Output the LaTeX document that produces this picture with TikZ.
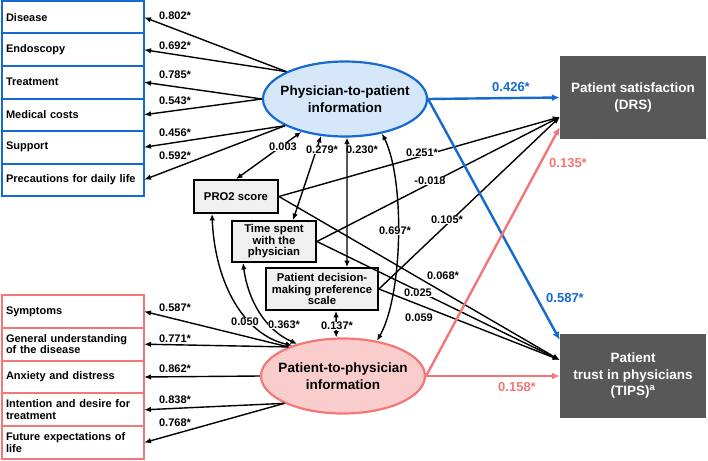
\documentclass[tikz,border=0pt]{standalone}
\usepackage{fontspec}
\setmainfont{Liberation Sans}
\usepackage{xcolor}
\usetikzlibrary{arrows.meta,shapes.geometric,positioning,calc}

\definecolor{pblue}{RGB}{20,106,210}
\definecolor{pred}{RGB}{244,118,118}
\definecolor{lblue}{RGB}{214,231,250}
\definecolor{lred}{RGB}{250,205,205}
\definecolor{dgray}{RGB}{88,88,88}
\definecolor{lgray}{RGB}{240,240,240}

\tikzset{
	ind/.style={rectangle, draw, line width=2pt, outer sep=0pt, anchor=north west, minimum width=142pt, minimum height=32.5pt, text width=134pt, inner xsep=4pt, inner ysep=1pt, align=left, font=\fontsize{11}{11.6}\selectfont\bfseries},
	bind/.style={ind, draw=pblue},
	rind/.style={ind, draw=pred, minimum height=32.8pt},
	lat/.style={ellipse, line width=2.2pt, minimum width=164pt, minimum height=75pt, inner xsep=-12pt, inner ysep=0pt, align=center, font=\fontsize{13.5}{17}\selectfont\bfseries},
	obs/.style={rectangle, draw, line width=1.8pt, fill=lgray, inner sep=2pt, align=center, font=\fontsize{11.3}{11.5}\selectfont\bfseries},
	dep/.style={rectangle, fill=dgray, text=white, minimum width=146pt, minimum height=83pt, align=center, font=\fontsize{13.5}{16.5}\selectfont\bfseries},
	arr/.style={line width=1.4pt, -{Latex[length=7pt,width=5.5pt]}},
	darr/.style={line width=1.4pt, {Latex[length=6.5pt,width=5.5pt]}-{Latex[length=6.5pt,width=5.5pt]}},
	barr/.style={pblue, line width=2.4pt, -{Latex[length=8pt,width=7pt]}},
	rarr/.style={pred, line width=2.4pt, -{Latex[length=8pt,width=7pt]}},
	num/.style={inner sep=0.5pt, font=\fontsize{11}{12}\selectfont\bfseries},
	numw/.style={num, fill=white},
	cnum/.style={inner sep=0.5pt, font=\fontsize{13}{14}\selectfont\bfseries}
}

\begin{document}
\begin{tikzpicture}[x=1pt,y=-1pt]
	\useasboundingbox (0,0) rectangle (708,460);
	\node[bind] (dis) at (2,1) {Disease};
	\node[bind] (endo) at (2,33.5) {Endoscopy};
	\node[bind] (treat) at (2,66) {Treatment};
	\node[bind] (cost) at (2,98.5) {Medical costs};
	\node[bind] (supp) at (2,131) {Support};
	\node[bind] (prec) at (2,163.5) {Precautions for daily life};
	\node[rind] (sym) at (2,295) {Symptoms};
	\node[rind] (gen) at (2,327.8) {General understanding\\of the disease};
	\node[rind] (anx) at (2,360.6) {Anxiety and distress};
	\node[rind] (intn) at (2,393.4) {Intention and desire for\\treatment};
	\node[rind] (fut) at (2,426.2) {Future expectations of\\life};
	\node[lat, draw=pblue, fill=lblue] (phy) at (345,99) {Physician-to-patient\\information};
	\node[lat, draw=pred, fill=lred] (pat) at (343,376) {Patient-to-physician\\information};
	\node[obs, minimum width=84pt, minimum height=33pt] (pro) at (236,196.5) {PRO2 score};
	\node[obs, minimum width=84pt, minimum height=41pt] (tim) at (274,241.5) {Time spent\\with the\\physician};
	\node[obs, minimum width=112pt, minimum height=42pt] (dec) at (322,289) {Patient decision-\\making preference\\scale};
	\node[dep] (drs) at (633,97.5) {Patient satisfaction\\(DRS)};
	\node[dep, minimum height=84pt] (tips) at (633,376) {Patient\\trust in physicians\\(TIPS)\textsuperscript{a}};

	\draw[arr] (phy.155) -- (dis.east);
	\draw[arr] (phy.155) -- (endo.east);
	\draw[arr] (phy.180) -- (treat.east);
	\draw[arr] (phy.180) -- (cost.east);
	\draw[arr] (phy.204) -- (supp.east);
	\draw[arr] (phy.204) -- (prec.east);
	\draw[arr] (pat.152) -- (sym.east);
	\draw[arr] (pat.152) -- (gen.east);
	\draw[arr] (pat.180) -- (anx.east);
	\draw[arr] (pat.205) -- (intn.east);
	\draw[arr] (pat.205) -- (fut.east);

	\draw[darr] (phy.217) -- (pro.north);
	\draw[darr] (phy.237) -- ([xshift=19pt]tim.north);
	\draw[darr] (phy.273) -- ([xshift=25pt]dec.north);
	\draw[darr] (phy.317) .. controls (405,180) and (403,295) .. (pat.46);
	\draw[darr] ([xshift=14pt]dec.south) -- (pat.100);
	\draw[darr] ([xshift=-24pt]pro.south) .. controls (215,285) and (245,335) .. (pat.149);
	\draw[darr] ([xshift=-31pt]tim.south) .. controls (248,300) and (265,330) .. (pat.145);

	\draw[arr] (pro.east) -- ([yshift=-19.5pt]drs.west);
	\draw[arr] (tim.east) -- ([yshift=-19.5pt]drs.west);
	\draw[arr] (dec.east) -- ([yshift=-19.5pt]drs.west);
	\draw[arr] (pro.east) -- ([yshift=16pt]tips.west);
	\draw[arr] (tim.east) -- ([yshift=16pt]tips.west);
	\draw[arr] (dec.east) -- ([yshift=16pt]tips.west);

	\draw[barr] (phy.east) -- (drs.west);
	\draw[barr] (phy.east) -- ([yshift=36pt]tips.west);
	\draw[rarr] (pat.east) -- ([yshift=-29.5pt]drs.west);
	\draw[rarr] (pat.east) -- (tips.west);

	\node[num] (w1) at (175,16) {0.802*};
	\node[num] (w2) at (175,46) {0.692*};
	\node[num] (w3) at (175,75) {0.785*};
	\node[num] (w4) at (175,101) {0.543*};
	\node[num] (w5) at (175,133) {0.456*};
	\node[num] (w6) at (175,156) {0.592*};
	\node[num] (w7) at (175,308) {0.587*};
	\node[num] (w8) at (175,339) {0.771*};
	\node[num] (w9) at (175,369) {0.862*};
	\node[num] (w10) at (175,400) {0.838*};
	\node[num] (w11) at (175,423) {0.768*};

	\node[numw] (c1) at (283,147) {0.003};
	\node[numw] (c2) at (322,150) {0.279*};
	\node[num] (c3) at (362,150) {0.230*};
	\node[numw] (c4) at (395,231) {0.697*};
	\node[numw] (c5) at (245,322) {0.050};
	\node[numw] (c6) at (284,325) {0.363*};
	\node[numw] (c7) at (337,326) {0.137*};

	\node[numw] (d1) at (422,153) {0.251*};
	\node[numw] (d2) at (430,181) {-0.018};
	\node[numw] (d3) at (447,220) {0.105*};
	\node[num] (t1) at (443,276) {0.068*};
	\node[numw] (t2) at (418,293) {0.025};
	\node[num] (t3) at (419,318) {0.059};

	\node[cnum, text=pblue] (b1) at (511,87) {0.426*};
	\node[cnum, text=pblue] (b2) at (565,298) {0.587*};
	\node[cnum, text=pred] (r1) at (568,163) {0.135*};
	\node[cnum, text=pred] (r2) at (517,387) {0.158*};
\end{tikzpicture}
\end{document}
